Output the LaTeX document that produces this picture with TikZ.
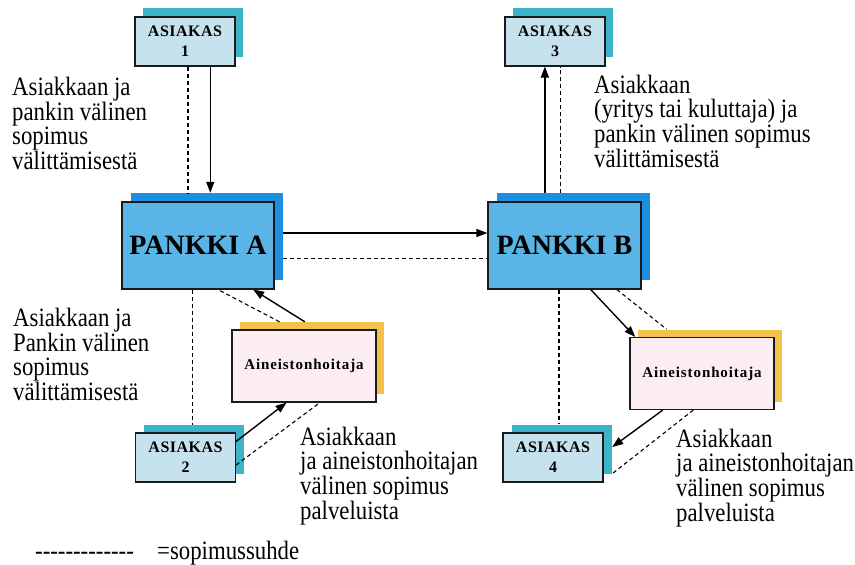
\documentclass[tikz,border=0pt]{standalone}
\usepackage{fontspec}
\setmainfont{Liberation Serif}
\usetikzlibrary{arrows.meta,calc}
\definecolor{pkfill}{HTML}{5AB4E6}
\definecolor{pkshade}{HTML}{1E8EE0}
\definecolor{asfill}{HTML}{C6E2EE}
\definecolor{asshade}{HTML}{3AB4C6}
\definecolor{aifill}{HTML}{FBEDF2}
\definecolor{aishade}{HTML}{F2C24A}
\definecolor{boxline}{HTML}{1A1A1A}
\newcommand\tstrut{\rule{0pt}{19pt}}
\begin{document}
\begin{tikzpicture}[x=1pt,y=-1pt,
  box/.style={draw=boxline, line width=1.1pt, inner sep=0pt, align=center},
  asiakas/.style={box, fill=asfill, minimum width=100pt, minimum height=49pt,
     font=\fontsize{16}{20}\selectfont\bfseries\addfontfeature{LetterSpace=3}},
  asshadow/.style={fill=asshade, draw=none, inner sep=0pt, minimum width=100pt, minimum height=49pt},
  pankki/.style={box, fill=pkfill, minimum width=152pt, minimum height=87pt,
     font=\fontsize{28}{30}\selectfont\bfseries},
  pkshadow/.style={fill=pkshade, draw=none, inner sep=0pt, minimum width=152pt, minimum height=87pt},
  aineisto/.style={box, fill=aifill, minimum width=144pt, minimum height=72pt,
     font=\fontsize{15}{18}\selectfont\bfseries\addfontfeature{LetterSpace=6}},
  aishadow/.style={fill=aishade, draw=none, inner sep=0pt, minimum width=144pt, minimum height=72pt},
  arr/.style={line width=1.4pt, draw=black, -{Triangle[length=11pt,width=8pt]}},
  dsh/.style={line width=1.1pt, draw=black, dash pattern=on 4pt off 3pt},
  txt/.style={inner sep=0pt, align=left, font=\fontsize{26.5}{24}\selectfont\addfontfeature{FakeStretch=0.86}},
]
\useasboundingbox (0,0) rectangle (855,565);
% shadows
\node[asshadow] (a1s) at (193,32.5) {};
\node[asshadow] (a3s) at (563,32.5) {};
\node[asshadow] (a2s) at (193.5,449.5) {};
\node[asshadow] (a4s) at (562,449) {};
\node[pkshadow] (pas) at (207,236.5) {};
\node[pkshadow, minimum width=153pt] (pbs) at (573,236.5) {};
\node[aishadow] (aas) at (312,358) {};
\node[aishadow] (abs) at (710,365.5) {};
% main boxes
\node[asiakas] (a1) at (185,41.5) {ASIAKAS\\1};
\node[asiakas] (a3) at (555,41.5) {ASIAKAS\\3};
\node[asiakas] (a2) at (185.5,457.5) {ASIAKAS\\2};
\node[asiakas] (a4) at (553,457.5) {ASIAKAS\\4};
\node[pankki] (pa) at (198,245.5) {PANKKI A};
\node[pankki, minimum width=153pt] (pb) at (564.5,245.5) {PANKKI B};
\node[aineisto] (aa) at (304,366) {Aineistonhoitaja};
\node[aineisto] (ab) at (702,373.5) {Aineistonhoitaja};
% connectors
\coordinate (c1) at ($(a1.south west)!0.75!(a1.south east)$);
\draw[arr] (c1) -- (c1 |- pas.north);
\coordinate (c2) at ($(a1.south west)!0.53!(a1.south east)$);
\draw[dsh] (c2) -- (c2 |- pas.north);
\coordinate (c3) at ($(pas.north east)!0.46!(pas.south east)$);
\draw[arr] (c3) -- (c3 -| pb.west);
\coordinate (c4) at ($(pas.north east)!0.747!(pas.south east)$);
\draw[dsh] (c4) -- (c4 -| pb.west);
\coordinate (c5) at ($(a3.south west)!0.4!(a3.south east)$);
\draw[arr] (c5 |- pbs.north) -- (c5);
\coordinate (c6) at ($(a3.south west)!0.55!(a3.south east)$);
\draw[dsh] (c6 |- pbs.north) -- (c6);
\draw[arr] ($(aas.north west)!0.45!(aas.north east)$) -- ($(pa.south west)!0.86!(pa.south east)$);
\draw[dsh] ($(aas.north west)!0.275!(aas.north east)$) -- ($(pa.south west)!0.63!(pa.south east)$);
\coordinate (c7) at ($(pa.south west)!0.467!(pa.south east)$);
\draw[dsh] (c7) -- (c7 |- a2s.north);
\draw[arr] ($(a2.north east)!0.18!(a2.south east)$) -- ($(aa.south west)!0.38!(aa.south east)$);
\draw[dsh] ($(a2.north east)!0.65!(a2.south east)$) -- ($(aa.south west)!0.61!(aa.south east)$);
\draw[arr] ($(pb.south west)!0.67!(pb.south east)$) -- ($(ab.north west)!0.04!(ab.north east)$);
\draw[dsh] ($(pb.south west)!0.84!(pb.south east)$) -- ($(abs.north west)!0.2!(abs.north east)$);
\coordinate (c8) at ($(pb.south west)!0.464!(pb.south east)$);
\draw[dsh] (c8) -- (c8 |- a4s.north);
\draw[arr] ($(ab.south west)!0.23!(ab.south east)$) -- ($(a4s.north east)!0.46!(a4s.south east)$);
\draw[dsh] ($(ab.south west)!0.44!(ab.south east)$) -- (a4s.south east);
% texts
\node[txt, anchor=north west] (t1) at (12,76) {\tstrut Asiakkaan ja\\pankin välinen\\sopimus\\välittämisestä};
\node[txt, anchor=north west] (t2) at (594,74) {\tstrut Asiakkaan\\(yritys tai kuluttaja) ja\\pankin välinen sopimus\\välittämisestä};
\node[txt, anchor=north west] (t3) at (13,307) {\tstrut Asiakkaan ja\\Pankin välinen\\sopimus\\välittämisestä};
\node[txt, anchor=north west] (t4) at (300,426) {\tstrut Asiakkaan\\ja aineistonhoitajan\\välinen sopimus\\palveluista};
\node[txt, anchor=north west] (t5) at (676,428) {\tstrut Asiakkaan\\ja aineistonhoitajan\\välinen sopimus\\palveluista};
\node[txt, anchor=base west] (lg1) at (35,559) {{-}{-}{-}{-}{-}{-}{-}{-}{-}{-}{-}{-}{-}};
\node[txt, anchor=base west] (lg2) at (157,559) {=sopimussuhde};
\end{tikzpicture}
\end{document}
